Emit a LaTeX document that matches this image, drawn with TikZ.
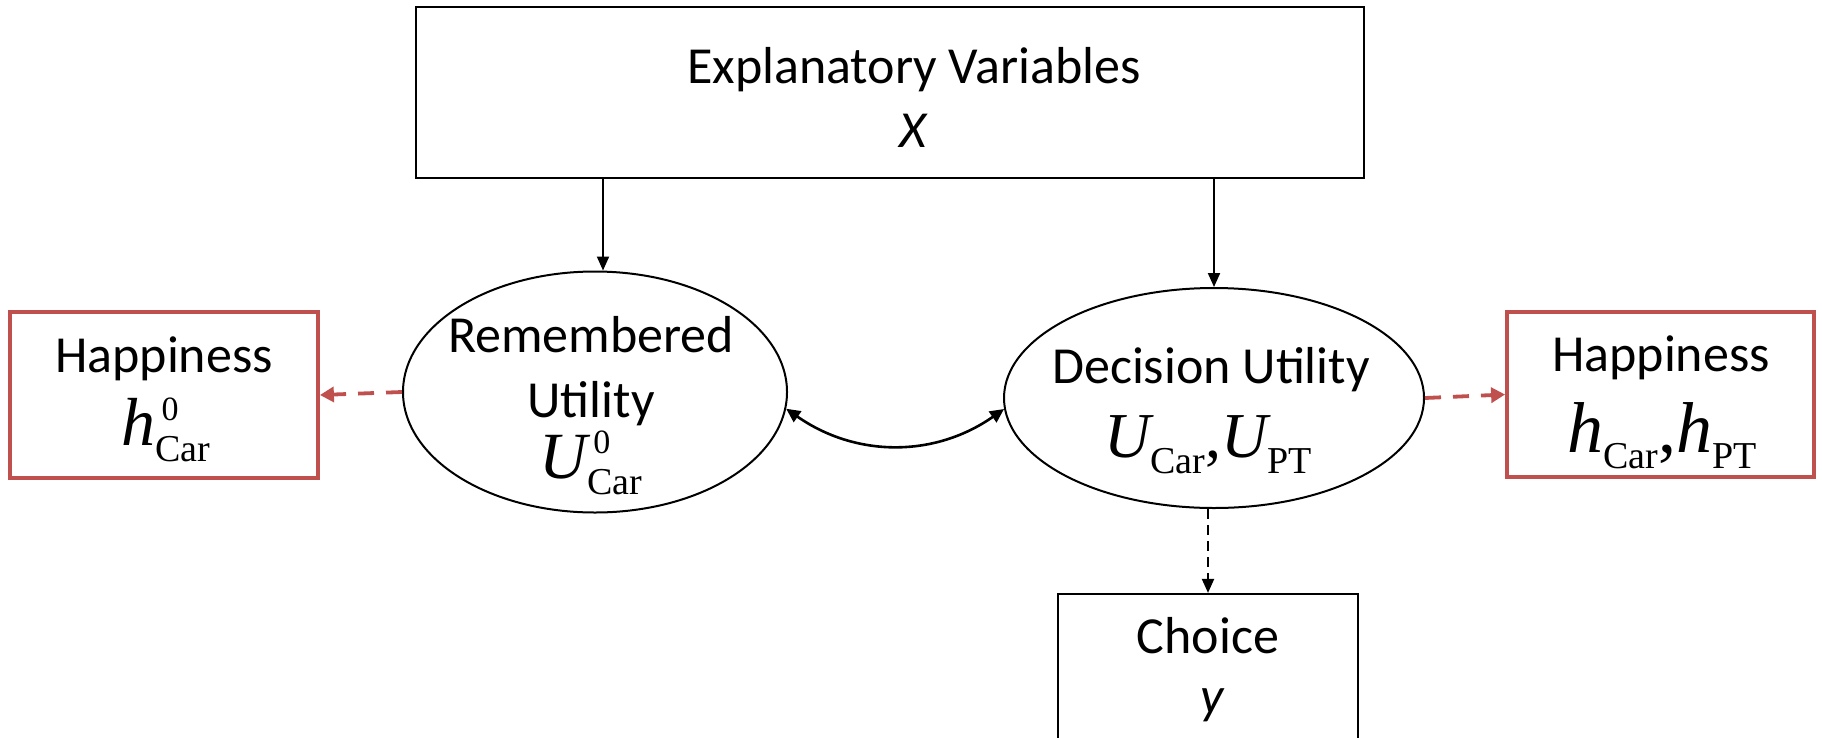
\documentclass[tikz,border=0pt]{standalone}
\usepackage{fontspec}
\setmainfont{Carlito}
\newfontfamily\timesfont{Liberation Serif}
\newfontfamily\timesital{Liberation Serif Italic}
\usetikzlibrary{arrows.meta,shapes.geometric}

\definecolor{happyred}{HTML}{C0504D}

% italic base symbol at a given size
\newcommand\basesym[2]{{\fontsize{#1}{#1}\timesital #2}}
% upright subscript
\newcommand\subsym[1]{\raisebox{-16pt}{\fontsize{38}{38}\timesfont #1}}
% superscript stacked over a subscript
\newcommand\supsubsym[2]{\makebox[0pt][l]{\kern6pt\raisebox{25pt}{\fontsize{34}{34}\timesfont #1}}\subsym{#2}}
% upright comma between symbols
\newcommand\symcomma[1]{{\fontsize{#1}{#1}\timesfont ,}}

\tikzset{
  blackbox/.style={draw=black, line width=2.2pt, rectangle, inner sep=0pt, fill=white},
  redbox/.style={draw=happyred, line width=3.8pt, rectangle, inner sep=0pt, fill=white},
  oval/.style={draw=black, line width=2pt, ellipse, inner sep=0pt},
  txt/.style={inner sep=0pt, anchor=base, font=\fontsize{52}{62}\selectfont},
  arr/.style={line width=2pt, -{Triangle[length=14pt,width=12pt]}},
  biarr/.style={line width=2.6pt, {Triangle[length=14pt,width=13pt]}-{Triangle[length=14pt,width=13pt]}},
  dasharr/.style={arr, dash pattern=on 10pt off 6pt},
  reddash/.style={draw=happyred, line width=3.8pt, dash pattern=on 16pt off 12pt,
                  -{Triangle[length=14pt,width=15pt]}},
}

\begin{document}
\begin{tikzpicture}[x=1pt, y=-1pt]
  \useasboundingbox (0,0) rectangle (1822,737);

  % boxes and ovals
  \node[blackbox, minimum width=948pt, minimum height=171pt] (top) at (890,92.5) {};
  \node[redbox, minimum width=308pt, minimum height=166pt] (lhappy) at (164,395) {};
  \node[redbox, minimum width=307pt, minimum height=165pt] (rhappy) at (1660.5,394.5) {};
  \node[oval, minimum width=384pt, minimum height=241pt] (rem) at (595,392) {};
  \node[oval, minimum width=420pt, minimum height=220pt] (dec) at (1214,398) {};
  \node[blackbox, minimum width=300pt, minimum height=190pt] (choice) at (1208,689) {};

  % texts
  \node[txt] (topA) at (914,83) {Explanatory Variables};
  \node[txt] (topB) at (913,147) {\itshape X};

  \node[txt] (lhA) at (164,372) {Happiness};
  \node[txt] (lhB) at (166,445) {\basesym{68}{h}\supsubsym{0}{Car}};

  \node[txt] (remA) at (591,352) {Remembered};
  \node[txt] (remB) at (591,417) {Utility};
  \node[txt] (remC) at (591,478) {\basesym{66}{U}\supsubsym{0}{Car}};

  \node[txt] (decA) at (1211,383) {Decision Utility};
  \node[txt] (decB) at (1208,457) {\basesym{64}{U}\subsym{Car}\symcomma{64}\basesym{64}{U}\subsym{PT}};

  \node[txt] (rhA) at (1661,371) {Happiness};
  \node[txt] (rhB) at (1662,452) {\basesym{72}{h}\subsym{Car}\symcomma{72}\basesym{72}{h}\subsym{PT}};

  \node[txt] (chA) at (1208,653) {Choice};
  \node[txt] (chB) at (1212,713) {\itshape y};

  % connectors
  \draw[arr] ([xshift=8pt]top.south -| rem.north) -- ([xshift=8pt]rem.north);
  \draw[arr] (top.south -| dec.north) -- (dec.north);
  \draw[biarr] (rem.-5) to[out=-35, in=-145] (dec.-177);
  \draw[dasharr] (dec.south -| choice.north) -- (choice.north);
  \draw[reddash] (rem.west) -- (lhappy.east);
  \draw[reddash] (dec.east) -- (rhappy.west);
\end{tikzpicture}
\end{document}
